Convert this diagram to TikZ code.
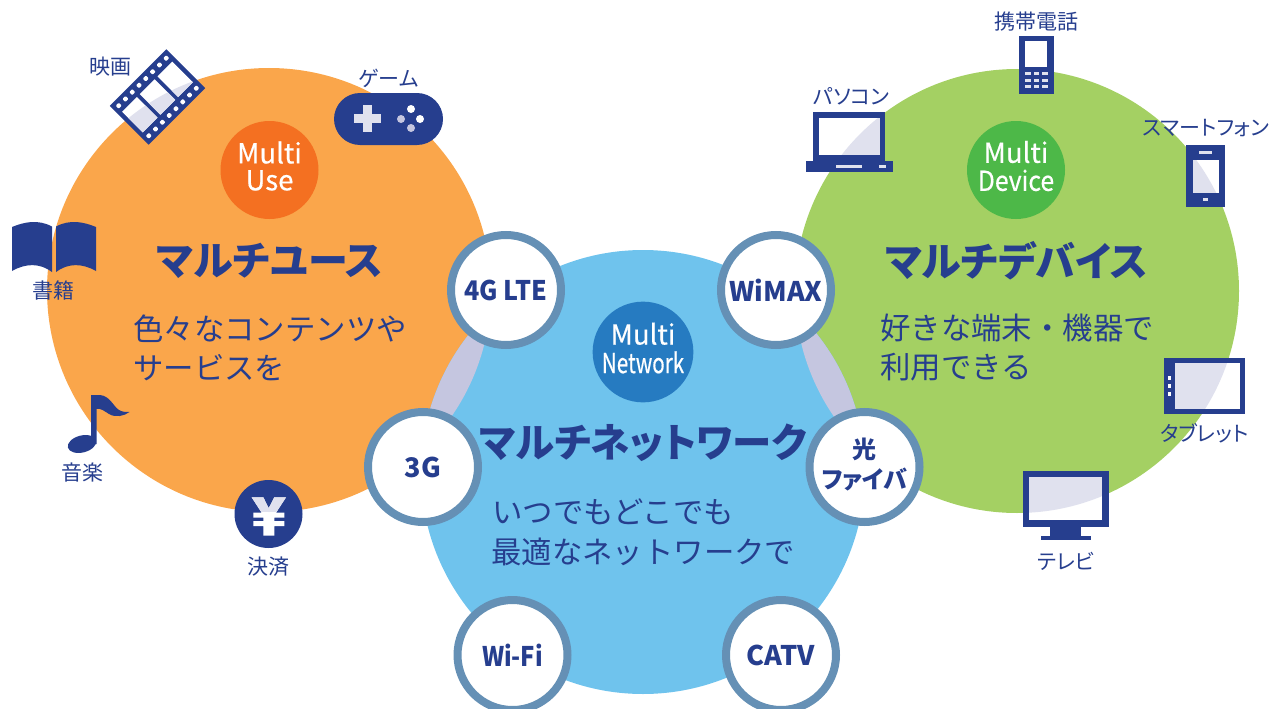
\documentclass[tikz,border=0pt]{standalone}
\usepackage{fontspec}
\setmainfont{Noto Sans CJK JP}[RawFeature={+palt}]
\newfontfamily\bodyfont{Noto Sans CJK JP}
\newfontfamily\hubfont{Noto Sans CJK JP}[FakeBold=0.5]
\usetikzlibrary{calc}
\definecolor{navy}{HTML}{263E8E}
\definecolor{pale}{HTML}{E0E1EE}
\definecolor{lens}{HTML}{C5C6E0}
\definecolor{orangeA}{HTML}{FAA64B}
\definecolor{orangeB}{HTML}{F47021}
\definecolor{greenA}{HTML}{A4D063}
\definecolor{greenB}{HTML}{4DB848}
\definecolor{blueA}{HTML}{6FC3ED}
\definecolor{blueB}{HTML}{267BC1}
\definecolor{ring}{HTML}{6590B5}
\newcommand{\fs}[1]{\fontsize{#1}{#1}\selectfont}
\newcommand{\orangeC}{(269,290) circle[radius=222pt]}
\newcommand{\greenC}{(1017,291) circle[radius=222pt]}
\newcommand{\blueC}{(643,472) circle[radius=222pt]}
\newcommand{\hubtext}[2]{\raisebox{1pt}{\begin{tabular}{@{}c@{}}#1\\[-1.5pt]#2\end{tabular}}}
\tikzset{
  hub/.style={circle,minimum size=98pt,inner sep=0pt,text=white,align=center,font=\hubfont\fs{27.5}},
  bubble/.style={circle,draw=ring,line width=8pt,fill=white,minimum size=110pt,inner sep=0pt,text=navy,align=center,font=\bfseries\fs{27}},
  heading/.style={inner sep=0pt,text=navy,font=\bfseries\fs{40}},
  body/.style={inner sep=0pt,text=navy,anchor=west,yshift=-1.5pt,font=\bodyfont\fs{30.4}},
  label/.style={inner sep=0pt,text=navy,yshift=-1pt,font=\fs{21}},
  icon/.style={fill=navy},
  paleicon/.style={fill=pale},
  whiteicon/.style={fill=white}
}
\begin{document}
\begin{tikzpicture}[x=1pt,y=-1pt]
\useasboundingbox (0,0) rectangle (1269,709);
\clip (0,0) rectangle (1269,709);
% big circles
\fill[orangeA] \orangeC;
\fill[greenA] \greenC;
\fill[blueA] \blueC;
\begin{scope}\clip \orangeC; \fill[lens] \blueC; \end{scope}
\begin{scope}\clip \greenC; \fill[lens] \blueC; \end{scope}

% hubs
\node[hub,fill=orangeB] (hubUse) at (269.5,170) {\hubtext{Multi}{Use}};
\node[hub,fill=greenB] (hubDevice) at (1016,170) {\hubtext{Multi}{\scalebox{.9}[1]{Device}}};
\node[hub,fill=blueB] (hubNet) at (643,352) {\hubtext{Multi}{\scalebox{.75}[1]{Network}}};

% headings and body
\node[heading] (hUse) at (270,261) {マルチユース};
\node[heading] (hDev) at (1016.5,261) {マルチデバイス};
\node[heading] (hNet) at (643,443) {\scalebox{.985}[1]{マルチネットワーク}};
\node[body] (u1) at (133,327) {色々なコンテンツや};
\node[body] (u2) at (133,366) {サービスを};
\node[body] (d1) at (880,326) {好きな端末・機器で};
\node[body] (d2) at (880,366) {利用できる};
\node[body] (n1) at (492,510) {いつでもどこでも};
\node[body] (n2) at (491,550) {最適なネットワークで};

% bubbles
\node[bubble] (lte) at (506,290) {\scalebox{.93}[1]{4G LTE}};
\node[bubble] (wimax) at (776,290) {WiMAX};
\node[bubble] (g3) at (423,467) {3G};
\node[bubble,font=\bfseries\fs{24}] (fiber) at (864.5,467) {\raisebox{4pt}{\begin{tabular}{@{}c@{}}光\\[2pt]ファイバ\end{tabular}}};
\node[bubble] (wifi) at (512.5,655) {\scalebox{.88}[1]{Wi-Fi}};
\node[bubble] (catv) at (781,655) {CATV};

% film
\begin{scope}[shift={(157.5,97)},rotate=45]
  \fill[icon] (-40,-27.5) rectangle (40,27.5);
  \foreach \k in {-1,0,1}{\fill[whiteicon] ({\k*25-10.5},-14.5) rectangle ({\k*25+10.5},14.5);}
  \foreach \k in {0,...,7}{
    \fill[whiteicon,rounded corners=1pt] ({-33.6+\k*9.6-2.2},{-21.3-2.2}) rectangle ({-33.6+\k*9.6+2.2},{-21.3+2.2});
    \fill[whiteicon,rounded corners=1pt] ({-33.6+\k*9.6-2.2},{21.3-2.2}) rectangle ({-33.6+\k*9.6+2.2},{21.3+2.2});
  }
\end{scope}
\begin{scope}
  \clip \orangeC;
  \begin{scope}[shift={(157.5,97)},rotate=45]
    \foreach \k in {-1,0,1}{\fill[paleicon] ({\k*25-10.5},-14.5) rectangle ({\k*25+10.5},14.5);}
  \end{scope}
\end{scope}
\node[label] (lFilm) at (110.5,66) {映画};

% game
\fill[icon,rounded corners=26pt] (334,93) rectangle (443,145);
\fill[paleicon] (353.5,113.5) rectangle (380.5,122.5);
\fill[paleicon] (362.5,104.5) rectangle (371.5,131.5);
\fill[white] (411,109) circle[radius=4pt];
\fill[white] (420,119) circle[radius=4pt];
\fill[lens] (401,119) circle[radius=4pt];
\fill[lens] (411,128) circle[radius=4pt];
\node[label] (lGame) at (388.5,77) {ゲーム};

% book
\fill[icon] (12,227) .. controls (24,222) and (38,219) .. (52,226.5) -- (52,272) .. controls (40,263) and (26,263) .. (12,271) -- cycle;
\fill[icon] (96,227) .. controls (84,222) and (70,219) .. (56,226.5) -- (56,272) .. controls (68,263) and (82,263) .. (96,271) -- cycle;
\node[label] (lBook) at (53.5,289) {書籍};

% note
\fill[icon,rotate around={14:(82,444)}] (82,444) ellipse[x radius=14.5pt,y radius=8.5pt];
\fill[icon] (91,395) -- (100,395) .. controls (110,396) and (113,406) .. (119,410) .. controls (122,412) and (126,412) .. (129.5,412) .. controls (124,416) and (116,418) .. (109,414) .. controls (104,411) and (101,408) .. (96.5,409) -- (96.5,444) -- (91,444) -- cycle;
\node[label] (lMusic) at (82,472) {音楽};

% yen
\fill[icon] (268.5,514) circle[radius=34pt];
\newcommand{\yenpath}{(251.7,497.3) -- (263.3,497.3) -- (268.7,508.3) -- (274.3,497.3) -- (286,497.3) -- (276,512.7) -- (284.3,512.7) -- (284.3,517.7) -- (274.3,517.7) -- (274.3,521) -- (284.3,521) -- (284.3,526) -- (274.3,526) -- (274.3,535.7) -- (263.3,535.7) -- (263.3,526) -- (253.3,526) -- (253.3,521) -- (263.3,521) -- (263.3,517.7) -- (253.3,517.7) -- (253.3,512.7) -- (261.7,512.7) -- cycle}
\fill[white] \yenpath;
\begin{scope}\clip \orangeC; \fill[pale] \yenpath; \end{scope}
\node[label] (lPay) at (268.5,566) {決済};

% laptop
\fill[icon] (813,112) rectangle (885,161);
\fill[icon] (806,161) rectangle (893,172);
\fill[white] (819,118) rectangle (879.5,155);
\begin{scope}\clip \greenC; \fill[pale] (819,118) rectangle (879.5,155); \end{scope}
\fill[pale] (836,165) rectangle (862,168);
\fill[pale] (879,165) rectangle (886,168);
\node[label] (lPc) at (851.5,95) {パソコン};

% feature phone
\fill[icon] (1019,36) rectangle (1054,94);
\fill[white] (1025,41) rectangle (1047.3,67);
\foreach \a in {1025,1033.5,1042}{\foreach \b in {72,78.7,85}{\fill[pale] (\a,\b) rectangle ({\a+5.5},{\b+3.3});}}
\node[label] (lCell) at (1036,21) {携帯電話};

% smartphone
\fill[icon] (1186,145) rectangle (1225,207);
\fill[white] (1192.7,160) rectangle (1219,193);
\begin{scope}\clip \greenC; \fill[pale] (1192.7,160) rectangle (1219,193); \end{scope}
\fill[pale] (1199,151) rectangle (1212,154);
\fill[pale] (1203,198) rectangle (1208,201);
\node[label] (lSmart) at (1206,127) {スマートフォン};

% tablet
\fill[icon] (1164,358) rectangle (1245,414);
\fill[white] (1175,363) rectangle (1240,409);
\begin{scope}\clip \greenC; \fill[pale] (1175,363) rectangle (1240,409); \end{scope}
\foreach \b in {376,384,392}{\fill[white] (1168,\b) rectangle (1171,{\b+4});}
\node[label] (lTab) at (1204.5,432) {タブレット};

% tv
\fill[icon] (1023,471) rectangle (1109,527);
\fill[icon] (1050,527) rectangle (1081,536);
\fill[icon] (1041,536) rectangle (1091,540);
\fill[white] (1029,477) rectangle (1102,520);
\begin{scope}\clip \greenC; \fill[pale] (1029,477) rectangle (1102,520); \end{scope}
\node[label] (lTv) at (1066,560) {テレビ};
\end{tikzpicture}
\end{document}
